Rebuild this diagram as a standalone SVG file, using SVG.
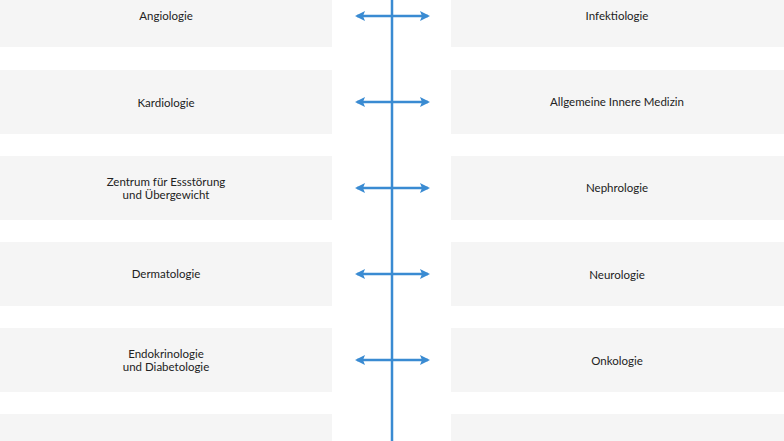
<svg xmlns="http://www.w3.org/2000/svg" width="784" height="441" viewBox="0 0 784 441">
<style>
.box{fill:#f5f5f5}
.t{font-family:Lato,"Liberation Sans",sans-serif;font-size:11.5px;fill:#222;text-anchor:middle}
.c{stroke:#3a8bd2;stroke-width:2.5;fill:none}
.a{fill:#3a8bd2}
</style>
<defs>
<marker id="h" viewBox="0 0 10 10" refX="8" refY="5" markerWidth="4" markerHeight="4" orient="auto-start-reverse" markerUnits="strokeWidth"><path d="M0,0L10,5L0,10L2,5Z" class="a"/></marker>
</defs>
<rect width="784" height="441" fill="#fff"/>
<g id="n1"><rect class="box" x="0" y="-20" width="332" height="67"/><text class="t" x="166" y="20">Angiologie</text></g>
<g id="n2"><rect class="box" x="451" y="-20" width="333" height="67"/><text class="t" x="617" y="20">Infektiologie</text></g>
<g id="n3"><rect class="box" x="0" y="70" width="332" height="64"/><text class="t" x="166" y="107">Kardiologie</text></g>
<g id="n4"><rect class="box" x="451" y="70" width="333" height="64"/><text class="t" x="617" y="106">Allgemeine Innere Medizin</text></g>
<g id="n5"><rect class="box" x="0" y="156" width="332" height="64"/><text class="t" x="166" y="186">Zentrum für Essstörung</text><text class="t" x="166" y="199">und Übergewicht</text></g>
<g id="n6"><rect class="box" x="451" y="156" width="333" height="64"/><text class="t" x="617" y="192">Nephrologie</text></g>
<g id="n7"><rect class="box" x="0" y="242" width="332" height="64"/><text class="t" x="166" y="278">Dermatologie</text></g>
<g id="n8"><rect class="box" x="451" y="242" width="333" height="64"/><text class="t" x="617" y="279">Neurologie</text></g>
<g id="n9"><rect class="box" x="0" y="328" width="332" height="64"/><text class="t" x="166" y="358">Endokrinologie</text><text class="t" x="166" y="371">und Diabetologie</text></g>
<g id="n10"><rect class="box" x="451" y="328" width="333" height="64"/><text class="t" x="617" y="365">Onkologie</text></g>
<g id="n11"><rect class="box" x="0" y="414" width="332" height="40"/></g>
<g id="n12"><rect class="box" x="451" y="414" width="333" height="40"/></g>
<g id="connectors">
<line class="c" x1="392" y1="0" x2="392" y2="441"/>
<line class="c" x1="357" y1="16" x2="428" y2="16" marker-start="url(#h)" marker-end="url(#h)"/>
<line class="c" x1="357" y1="102" x2="428" y2="102" marker-start="url(#h)" marker-end="url(#h)"/>
<line class="c" x1="357" y1="188" x2="428" y2="188" marker-start="url(#h)" marker-end="url(#h)"/>
<line class="c" x1="357" y1="274" x2="428" y2="274" marker-start="url(#h)" marker-end="url(#h)"/>
<line class="c" x1="357" y1="360" x2="428" y2="360" marker-start="url(#h)" marker-end="url(#h)"/>
</g>
</svg>
